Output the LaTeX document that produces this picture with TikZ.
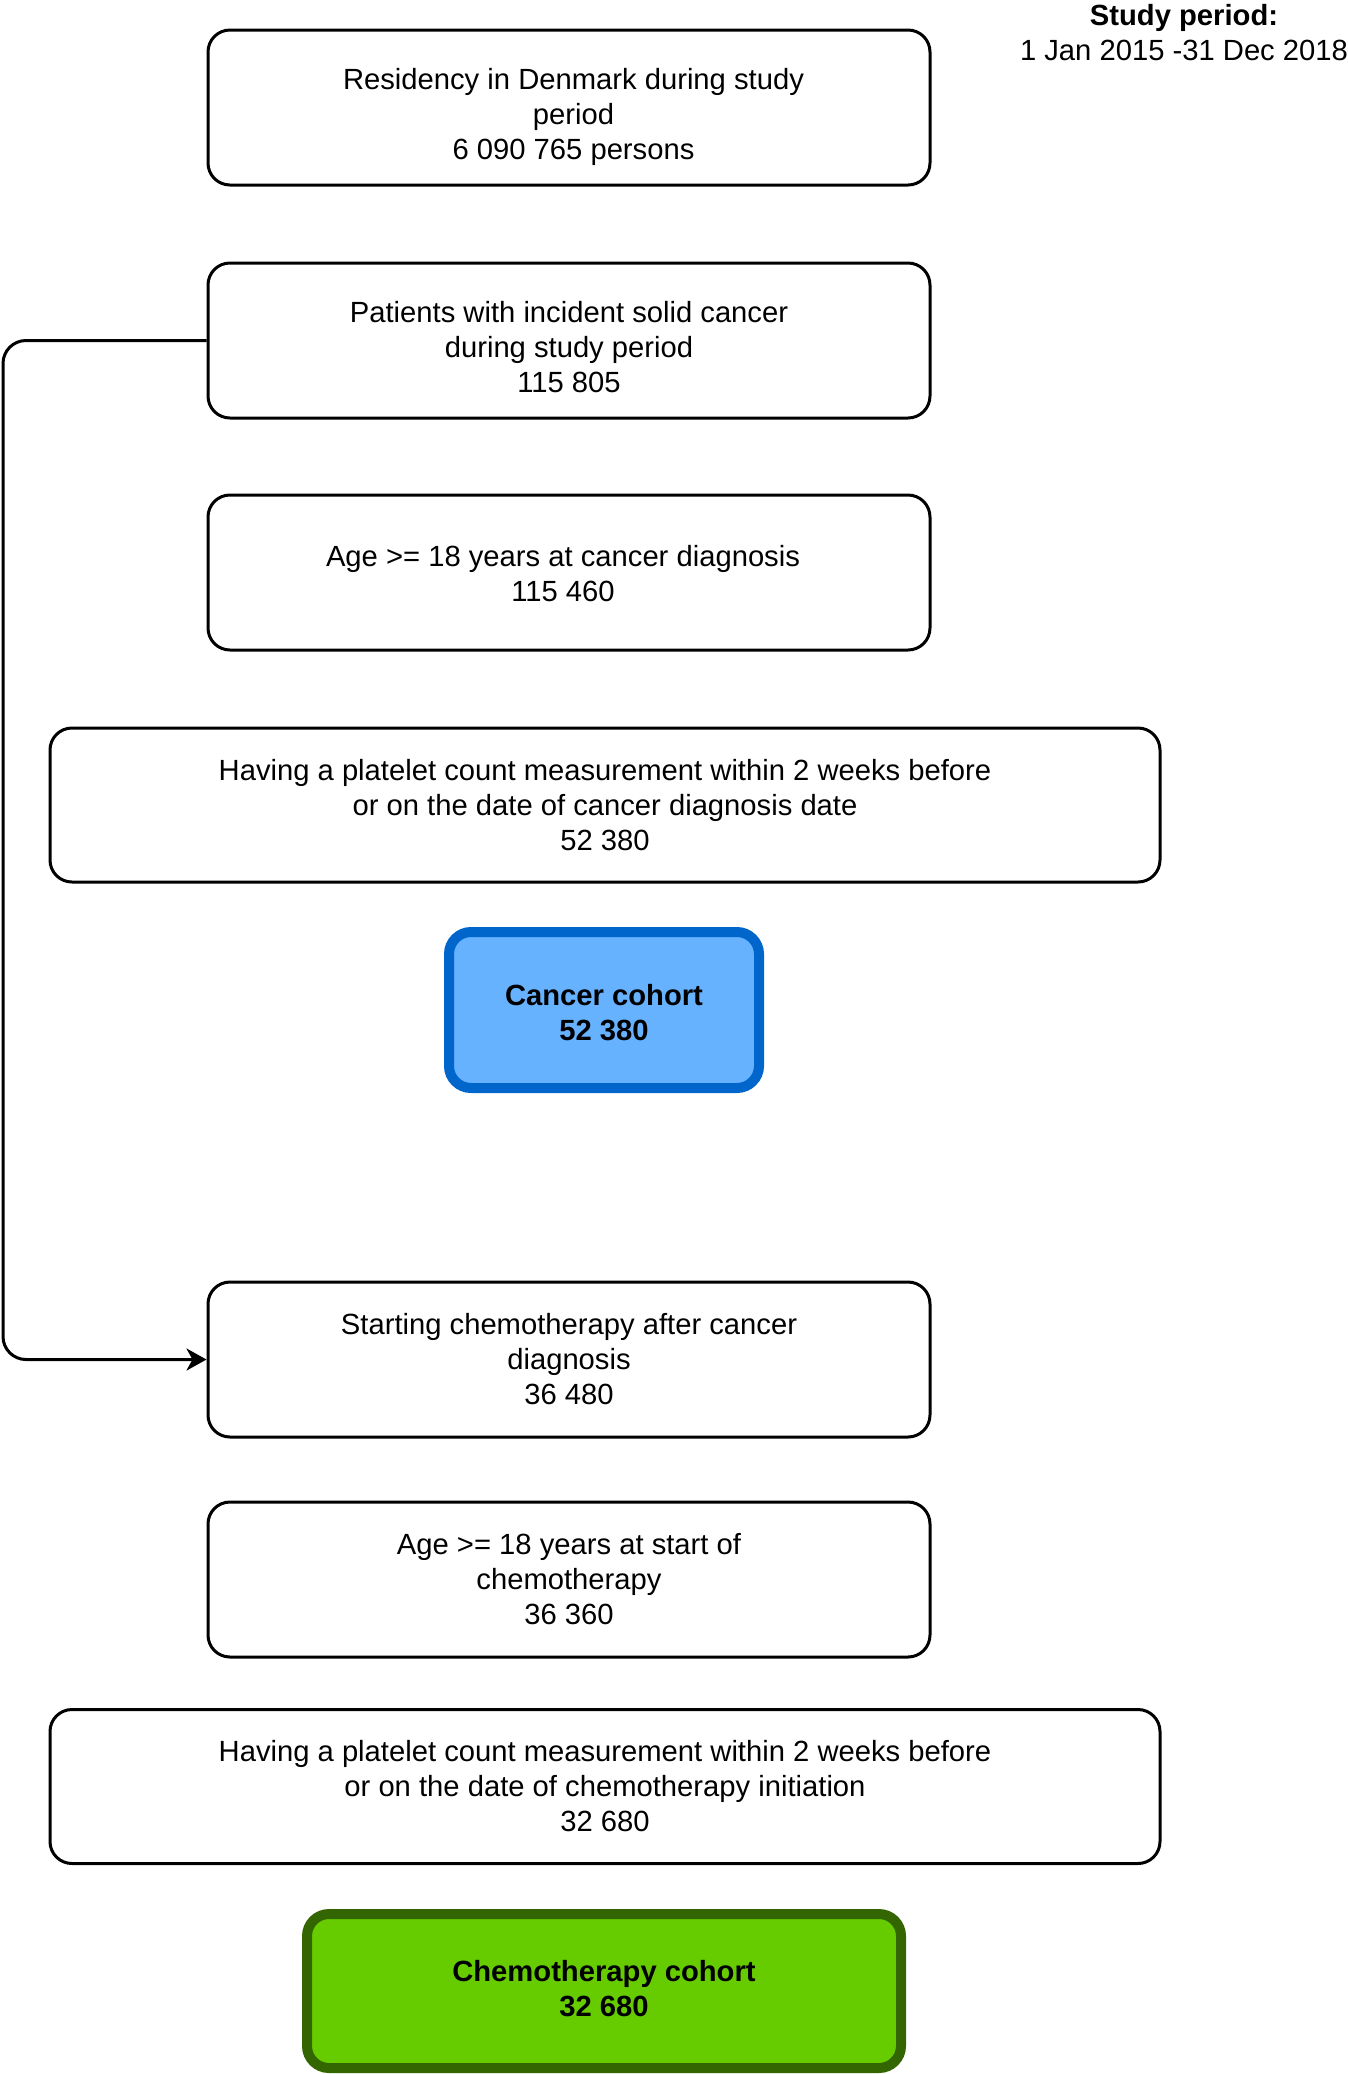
\documentclass[tikz,border=0pt]{standalone}
\usepackage{fontspec}
\setmainfont{Liberation Sans}
\usetikzlibrary{arrows.meta}
\definecolor{cblue}{HTML}{66B2FF}
\definecolor{cbluedark}{HTML}{0066CC}
\definecolor{cgreen}{HTML}{66CC00}
\definecolor{cgreendark}{HTML}{336600}
\begin{document}
\begin{tikzpicture}[x=0.5pt,y=-0.5pt,
  every node/.style={font=\fontsize{14.6}{17.5}\selectfont, align=center, inner sep=0pt},
  stepbox/.style={draw=black, line width=1.5pt, rounded corners=11pt, fill=white},
  narrowbox/.style={stepbox, minimum width=361pt, minimum height=77.5pt},
  widebox/.style={stepbox, minimum width=555pt, minimum height=77pt},
  cohortbox/.style={line width=5pt, rounded corners=11pt, font=\fontsize{14.6}{17.5}\selectfont\bfseries},
  conn/.style={draw=black, line width=1.5pt, rounded corners=11.5pt}
]
\useasboundingbox (0,0) rectangle (1348,2074);

\node[narrowbox] (b1) at (569,107.5) {};
\node (b1t) at (573.5,117) {Residency in Denmark during study\\period\\6 090 765 persons};
\node[narrowbox] (b2) at (569,340.5) {};
\node (b2t) at (569,347.5) {Patients with incident solid cancer\\during study period\\115 805};
\node[narrowbox] (b3) at (569,572.5) {};
\node (b3t) at (563,573.5) {Age >= 18 years at cancer diagnosis\\115 460};
\node[widebox] (b4) at (605,805) {Having a platelet count measurement within 2 weeks before\\or on the date of cancer diagnosis date\\52 380};
\node[cohortbox, draw=cbluedark, fill=cblue, minimum width=155pt, minimum height=78pt] (c1) at (604,1010) {};
\node (c1t) at (604,1013) {\bfseries Cancer cohort\\\bfseries 52 380};
\node[narrowbox] (b5) at (569,1359.5) {Starting chemotherapy after cancer\\diagnosis\\36 480};
\node[narrowbox] (b6) at (569,1579.5) {Age >= 18 years at start of\\chemotherapy\\36 360};
\node[widebox] (b7) at (605,1786.5) {Having a platelet count measurement within 2 weeks before\\or on the date of chemotherapy initiation\\32 680};
\node[cohortbox, draw=cgreendark, fill=cgreen, minimum width=297pt, minimum height=77pt] (c2) at (604,1991) {};
\node (c2t) at (604,1989) {\bfseries Chemotherapy cohort\\\bfseries 32 680};

\node (sp) at (1184,33) {\textbf{Study period:}\\1 Jan 2015 -31 Dec 2018};

\draw[conn, -{Stealth[length=10pt,width=11pt,inset=3pt]}] (b2.west) -- (3,340.5) -- (3,1359.5) -- (b5.west);
\end{tikzpicture}
\end{document}
